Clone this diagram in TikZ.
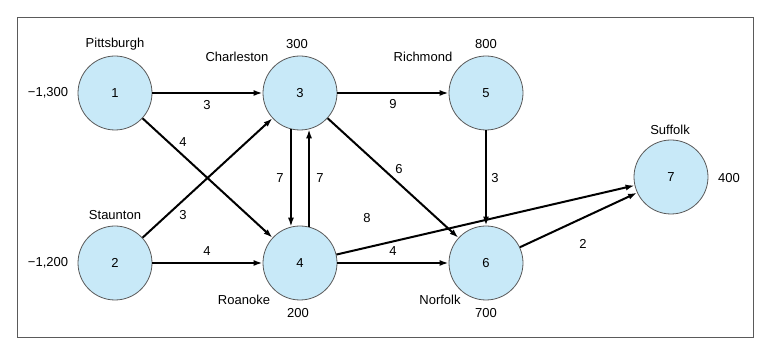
\documentclass[tikz,border=0pt]{standalone}
\usepackage{fontspec}
\setmainfont{Liberation Sans}
\usetikzlibrary{arrows.meta}
\definecolor{nodefill}{RGB}{200,233,248}
\definecolor{nodeline}{RGB}{90,90,90}
\begin{document}
\begin{tikzpicture}[x=1pt,y=-1pt,
  city/.style={circle,draw=nodeline,line width=0.8pt,fill=nodefill,minimum size=74pt,inner sep=0pt,font=\fontsize{13}{15}\selectfont},
  lbl/.style={inner sep=1pt,font=\fontsize{13}{15}\selectfont},
  flow/.style={line width=2pt,-{Latex[length=9pt,width=6pt]}},
  frame/.style={draw=nodeline,line width=0.8pt}]
\useasboundingbox (0,0) rectangle (780,347);
\draw[frame] (17,17) rectangle (753,337);
\node[city] (n1) at (115,93) {1};
\node[city] (n3) at (300,93) {3};
\node[city] (n5) at (486,93) {5};
\node[city] (n7) at (671,177) {7};
\node[city] (n2) at (115,263) {2};
\node[city] (n4) at (300,263) {4};
\node[city] (n6) at (486,263) {6};
% city names and supplies
\node[lbl] (t1) at (115,44) {Pittsburgh};
\node[lbl] (t3) at (237,57) {Charleston};
\node[lbl] (s3) at (297,44) {300};
\node[lbl] (t5) at (423,57) {Richmond};
\node[lbl] (s5) at (486,44) {800};
\node[lbl] (t7) at (670,130) {Suffolk};
\node[lbl] (s7) at (729,178) {400};
\node[lbl] (s1) at (48,93) {−1,300};
\node[lbl] (s2) at (48,263) {−1,200};
\node[lbl] (t2) at (115,215) {Staunton};
\node[lbl] (t4) at (244,300) {Roanoke};
\node[lbl] (s4) at (298,313) {200};
\node[lbl] (t6) at (440,300) {Norfolk};
\node[lbl] (s6) at (486,313) {700};
% edges
\draw[flow] (n1) -- (n3);
\draw[flow] (n1) -- (n4);
\draw[flow] (n2) -- (n3);
\draw[flow] (n2) -- (n4);
\draw[flow] (n3.256) -- (n4.104);
\draw[flow] (n4.76) -- (n3.284);
\draw[flow] (n3) -- (n5);
\draw[flow] (n3) -- (n6);
\draw[flow] (n5) -- (n6);
\draw[flow] (n4) -- (n6);
\draw[flow] (n4) -- (n7);
\draw[flow] (n6) -- (n7);
% edge labels
\node[lbl] (e13) at (207,105) {3};
\node[lbl] (e14) at (183,142) {4};
\node[lbl] (e23) at (183,215) {3};
\node[lbl] (e24) at (207,251) {4};
\node[lbl] (e34) at (280,178) {7};
\node[lbl] (e43) at (320,178) {7};
\node[lbl] (e35) at (393,104) {9};
\node[lbl] (e36) at (399,169) {6};
\node[lbl] (e56) at (495,178) {3};
\node[lbl] (e47) at (367,218) {8};
\node[lbl] (e46) at (393,251) {4};
\node[lbl] (e67) at (583,244) {2};
\end{tikzpicture}
\end{document}
